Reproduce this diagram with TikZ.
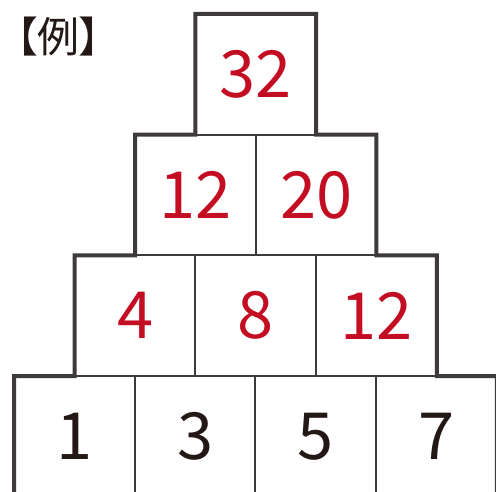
\documentclass[tikz,border=0pt]{standalone}
\usepackage{fontspec}
\usepackage{xcolor}
\usepackage{tikz}
\usetikzlibrary{positioning}
\newfontfamily\jpfont[RawFeature=+palt]{Noto Sans CJK JP}
\definecolor{pyline}{RGB}{62,58,57}
\definecolor{pyred}{RGB}{195,13,35}
\definecolor{pyblack}{RGB}{35,24,21}

\begin{document}
\begin{tikzpicture}[x=1pt, y=-1pt,
  every node/.style={font=\jpfont},
  cell/.style={rectangle, draw=pyline, line width=2pt, inner sep=0pt,
               outer sep=0pt, minimum width=120.7pt, minimum height=120.7pt,
               font=\jpfont\fontsize{65}{65}\selectfont},
  given/.style={cell, text=pyblack},
  sum/.style={cell, text=pyred},
  outline/.style={draw=pyline, line width=4pt, line join=miter},
]
\useasboundingbox (0,0) rectangle (496,491);

% Title
\node[anchor=west, inner sep=0pt, text=pyblack,
      font=\jpfont\fontsize{42}{42}\selectfont] (title) at (16,37) {【例】};

% Bottom row (given numbers)
\node[given] (b1) at (74.35,436.35) {1};
\node[given, right=0pt of b1] (b2) {3};
\node[given, right=0pt of b2] (b3) {5};
\node[given, right=0pt of b3] (b4) {7};

% Sums
\node[sum] (c1) at (135.05,315.65) {4};
\node[sum, right=0pt of c1] (c2) {8};
\node[sum, right=0pt of c2] (c3) {12};

\node[sum] (d1) at (195.4,194.95) {12};
\node[sum, right=0pt of d1] (d2) {20};

\node[sum] (top) at (255.75,74.25) {32};

% Outer staircase
\draw[outline] (b1.south west) -- (b1.north west) -- (c1.south west)
  -- (c1.north west) -- (d1.south west) -- (d1.north west)
  -- (top.south west) -- (top.north west) -- (top.north east)
  -- (top.south east) -- (d2.north east) -- (d2.south east)
  -- (c3.north east) -- (c3.south east) -- (b4.north east)
  -- (b4.south east);

\end{tikzpicture}
\end{document}
